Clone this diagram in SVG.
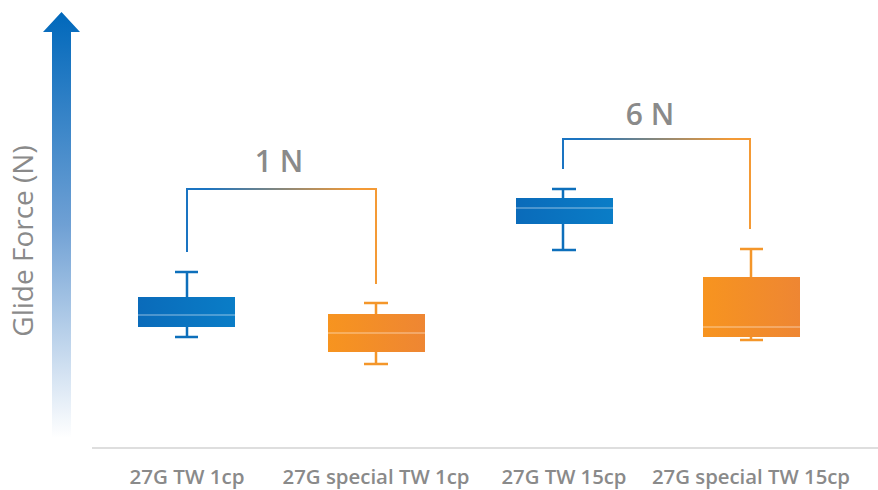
<svg xmlns="http://www.w3.org/2000/svg" width="878" height="490" viewBox="0 0 878 490">
<defs>
<style>
.lbl{font-family:"Open Sans","Liberation Sans",sans-serif;fill:#8a8a8a}
.cat{font-size:20px;font-weight:600;text-anchor:middle}
.big{font-size:30px;font-weight:600;text-anchor:middle}
.wb{stroke:#0d6fbb;stroke-width:2.5;fill:none}
.wo{stroke:#f4962a;stroke-width:2.5;fill:none}
.med{stroke:#ffffff;stroke-opacity:0.55;stroke-width:1.2}
</style>
<linearGradient id="axisGrad" x1="0" y1="0" x2="0" y2="1">
<stop offset="0" stop-color="#0068bb"/>
<stop offset="0.5" stop-color="#6fa0d4"/>
<stop offset="1" stop-color="#ffffff"/>
</linearGradient>
<linearGradient id="blueBox" x1="0" y1="0" x2="1" y2="0">
<stop offset="0" stop-color="#0a6bba"/>
<stop offset="1" stop-color="#0a7dc7"/>
</linearGradient>
<linearGradient id="orangeBox" x1="0" y1="0" x2="1" y2="0">
<stop offset="0" stop-color="#f7941f"/>
<stop offset="1" stop-color="#ee8633"/>
</linearGradient>
<linearGradient id="br1" gradientUnits="userSpaceOnUse" x1="187" y1="0" x2="376" y2="0">
<stop offset="0.1" stop-color="#1a74c2"/>
<stop offset="0.9" stop-color="#f49a35"/>
</linearGradient>
<linearGradient id="br2" gradientUnits="userSpaceOnUse" x1="563" y1="0" x2="750" y2="0">
<stop offset="0.1" stop-color="#1a74c2"/>
<stop offset="0.9" stop-color="#f49a35"/>
</linearGradient>
</defs>
<rect width="878" height="490" fill="#ffffff"/>

<g id="axis">
<polygon points="52,32 43,32 61.5,12 80,32 71,32 71,438 52,438" fill="url(#axisGrad)"/>
<text class="lbl" x="0" y="0" font-size="28" text-anchor="middle" transform="translate(33,241) rotate(-90)">Glide Force (N)</text>
<line x1="92" y1="448" x2="878" y2="448" stroke="#dedede" stroke-width="2"/>
</g>

<g id="connectors">
<path d="M187,252 V189 H376 V284" fill="none" stroke="url(#br1)" stroke-width="2"/>
<path d="M563,169 V139 H750 V229" fill="none" stroke="url(#br2)" stroke-width="2"/>
</g>

<g id="box1">
<path class="wb" d="M175,272 H198 M187,272 V297 M187,327 V337 M175,337 H198"/>
<rect x="138" y="297" width="97" height="30" fill="url(#blueBox)"/>
<line class="med" x1="138" y1="315" x2="235" y2="315"/>
</g>
<g id="box2">
<path class="wo" d="M364,303 H388 M376,303 V314 M376,352 V364 M364,364 H388"/>
<rect x="328" y="314" width="97" height="38" fill="url(#orangeBox)"/>
<line class="med" x1="328" y1="333" x2="425" y2="333"/>
</g>
<g id="box3">
<path class="wb" d="M552,189 H576 M563,189 V198 M563,224 V250 M552,250 H576"/>
<rect x="516" y="198" width="97" height="26" fill="url(#blueBox)"/>
<line class="med" x1="516" y1="208" x2="613" y2="208"/>
</g>
<g id="box4">
<path class="wo" d="M740,249 H763 M751,249 V277 M751,337 V340 M740,340 H763"/>
<rect x="703" y="277" width="97" height="60" fill="url(#orangeBox)"/>
<line class="med" x1="703" y1="327" x2="800" y2="327"/>
</g>

<g id="labels">
<text class="lbl big" x="279" y="172">1 N</text>
<text class="lbl big" x="650" y="125">6 N</text>
<text class="lbl cat" x="187" y="484" textLength="115" lengthAdjust="spacingAndGlyphs">27G TW 1cp</text>
<text class="lbl cat" x="376" y="484" textLength="187" lengthAdjust="spacingAndGlyphs">27G special TW 1cp</text>
<text class="lbl cat" x="564" y="484" textLength="125" lengthAdjust="spacingAndGlyphs">27G TW 15cp</text>
<text class="lbl cat" x="751" y="484" textLength="198" lengthAdjust="spacingAndGlyphs">27G special TW 15cp</text>
</g>
</svg>
